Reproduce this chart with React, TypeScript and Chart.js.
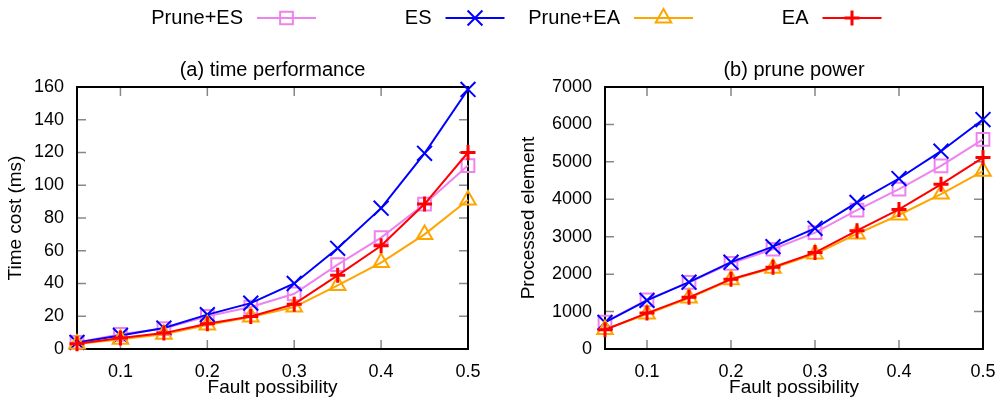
import React, { useEffect, useRef } from 'react';
import { Chart, registerables } from 'chart.js';

Chart.register(...registerables);

// ---------- data ----------
const faultPossibility = [0.05, 0.1, 0.15, 0.2, 0.25, 0.3, 0.35, 0.4, 0.45, 0.5];
const xTickValues = [0.1, 0.2, 0.3, 0.4, 0.5];
const xTickLabels = ['0.1', '0.2', '0.3', '0.4', '0.5'];
const timeTickValues = [0, 20, 40, 60, 80, 100, 120, 140, 160];
const timeTickLabels = ['0', '20', '40', '60', '80', '100', '120', '140', '160'];
const elemTickValues = [0, 1000, 2000, 3000, 4000, 5000, 6000, 7000];
const elemTickLabels = ['0', '1000', '2000', '3000', '4000', '5000', '6000', '7000'];

const seriesNames = ['Prune+ES', 'ES', 'Prune+EA', 'EA'];

const timePruneES = [4, 9, 12.5, 20, 25.6, 33.7, 51.5, 68, 88.5, 112];
const timeES = [4, 8.3, 12.8, 21, 28, 40, 61.5, 86, 119.5, 158.5];
const timePruneEA = [3, 6, 9, 14.6, 19.5, 25.6, 38.8, 52.8, 70, 91];
const timeEA = [3.2, 6.7, 9.7, 15.4, 19.9, 27.4, 45, 63, 88.5, 120];

const elemPruneES = [720, 1315, 1780, 2290, 2665, 3110, 3710, 4270, 4895, 5600];
const elemES = [710, 1300, 1785, 2320, 2735, 3225, 3915, 4555, 5285, 6130];
const elemPruneEA = [520, 935, 1360, 1850, 2160, 2535, 3075, 3580, 4140, 4750];
const elemEA = [515, 960, 1380, 1865, 2185, 2575, 3160, 3730, 4400, 5115];

// ---------- styles ----------
const FONT = '"Liberation Sans", Arial, Helvetica, sans-serif';
const seriesStyles = [
  { color: '#ee82ee', point: 'rect', radius: 9, pw: 2, order: 4 },
  { color: '#0000ff', point: 'crossRot', radius: 10.5, pw: 2, order: 3 },
  { color: '#ffa500', point: 'triangle', radius: 9, pw: 2, order: 2 },
  { color: '#ff0000', point: 'cross', radius: 7.5, pw: 3, order: 1 },
];

function drawMarker(ctx: CanvasRenderingContext2D, style: string, x: number, y: number, r: number) {
  ctx.beginPath();
  if (style === 'rect') {
    const s = r * Math.SQRT1_2;
    ctx.rect(x - s, y - s, 2 * s, 2 * s);
  } else if (style === 'crossRot') {
    const d = r * Math.SQRT1_2;
    ctx.moveTo(x - d, y - d);
    ctx.lineTo(x + d, y + d);
    ctx.moveTo(x - d, y + d);
    ctx.lineTo(x + d, y - d);
  } else if (style === 'triangle') {
    let a = 0;
    ctx.moveTo(x + Math.sin(a) * r, y - Math.cos(a) * r);
    a += (2 * Math.PI) / 3;
    ctx.lineTo(x + Math.sin(a) * r, y - Math.cos(a) * r);
    a += (2 * Math.PI) / 3;
    ctx.lineTo(x + Math.sin(a) * r, y - Math.cos(a) * r);
    ctx.closePath();
  } else {
    ctx.moveTo(x, y - r);
    ctx.lineTo(x, y + r);
    ctx.moveTo(x - r, y);
    ctx.lineTo(x + r, y);
  }
  ctx.stroke();
}

const framePlugin = {
  id: 'gnuframe',
  beforeDatasetsDraw(chart: any) {
    const { ctx, chartArea } = chart;
    const { left, right, top, bottom } = chartArea;
    const xs = chart.scales.x;
    const ys = chart.scales.y;
    const tl = 9;
    ctx.save();
    ctx.strokeStyle = '#888888';
    ctx.lineWidth = 1.5;
    ctx.beginPath();
    xs.ticks.forEach((t: any) => {
      const px = xs.getPixelForValue(t.value);
      ctx.moveTo(px, bottom);
      ctx.lineTo(px, bottom - tl);
      ctx.moveTo(px, top);
      ctx.lineTo(px, top + tl);
    });
    ys.ticks.forEach((t: any) => {
      const py = ys.getPixelForValue(t.value);
      ctx.moveTo(left, py);
      ctx.lineTo(left + tl, py);
      ctx.moveTo(right, py);
      ctx.lineTo(right - tl, py);
    });
    ctx.stroke();
    ctx.strokeStyle = '#000000';
    ctx.lineWidth = 2;
    ctx.strokeRect(left, top, right - left, bottom - top);
    ctx.restore();
  },
};

const legendPlugin = {
  id: 'gnulegend',
  afterDraw(chart: any) {
    const ctx: CanvasRenderingContext2D = chart.ctx;
    ctx.save();
    ctx.font = `20px ${FONT}`;
    ctx.fillStyle = '#000';
    ctx.textAlign = 'right';
    ctx.textBaseline = 'middle';
    const y = 18;
    seriesNames.forEach((name, i) => {
      const st = seriesStyles[i];
      const lineStart = 257 + i * 188.5;
      const lineEnd = lineStart + 59;
      ctx.fillText(name, lineStart - 14, y);
      ctx.strokeStyle = st.color;
      ctx.lineWidth = 2;
      ctx.beginPath();
      ctx.moveTo(lineStart, y);
      ctx.lineTo(lineEnd, y);
      ctx.stroke();
      ctx.lineWidth = st.pw;
      drawMarker(ctx, st.point, (lineStart + lineEnd) / 2, y, st.radius);
    });
    ctx.restore();
  },
};

function makeConfig(opts: {
  series: number[][];
  title: string;
  yTitle: string;
  yMax: number;
  yTickValues: number[];
  yTickLabels: string[];
  padLeft: number;
  padRight: number;
  yWidth: number;
  yTitlePad: number;
  withLegend: boolean;
}): any {
  const datasets = opts.series.map((vals, i) => {
    const st = seriesStyles[i];
    return {
      label: seriesNames[i],
      data: faultPossibility.map((x, j) => ({ x, y: vals[j] })),
      borderColor: st.color,
      backgroundColor: st.color,
      borderWidth: 2,
      pointStyle: st.point,
      pointRadius: st.radius,
      pointBorderWidth: st.pw,
      pointBorderColor: st.color,
      pointBackgroundColor: 'rgba(0,0,0,0)',
      fill: false,
      tension: 0,
      clip: false,
      order: st.order,
    };
  });
  return {
    type: 'line',
    data: { datasets },
    plugins: opts.withLegend ? [framePlugin, legendPlugin] : [framePlugin],
    options: {
      responsive: false,
      animation: false,
      layout: { padding: { left: opts.padLeft, right: opts.padRight, top: 0, bottom: 0 } },
      plugins: {
        legend: { display: false },
        tooltip: { enabled: false },
        title: {
          display: true,
          text: opts.title,
          color: '#000',
          font: { family: FONT, size: 20, weight: 'normal' },
          padding: { top: 58, bottom: 5 },
          fullSize: false,
        },
      },
      scales: {
        x: {
          type: 'linear',
          min: 0.05,
          max: 0.5,
          grid: { display: false, drawTicks: false },
          border: { display: false },
          ticks: {
            color: '#000',
            font: { family: FONT, size: 18 },
            padding: 12,
            maxRotation: 0,
            autoSkip: false,
            callback: (_v: any, idx: number) => xTickLabels[idx],
          },
          afterBuildTicks: (s: any) => {
            s.ticks = xTickValues.map((v) => ({ value: v }));
          },
          afterFit: (s: any) => {
            s.height = 57;
          },
          title: {
            display: true,
            text: 'Fault possibility',
            color: '#000',
            font: { family: FONT, size: 19 },
            padding: { top: 0, bottom: 7 },
          },
        },
        y: {
          type: 'linear',
          min: 0,
          max: opts.yMax,
          grid: { display: false, drawTicks: false },
          border: { display: false },
          ticks: {
            color: '#000',
            font: { family: FONT, size: 18 },
            padding: 13,
            autoSkip: false,
            callback: (_v: any, idx: number) => opts.yTickLabels[idx],
          },
          afterBuildTicks: (s: any) => {
            s.ticks = opts.yTickValues.map((v) => ({ value: v }));
          },
          afterFit: (s: any) => {
            s.width = opts.yWidth;
          },
          title: {
            display: true,
            text: opts.yTitle,
            color: '#000',
            font: { family: FONT, size: 19 },
            padding: { top: opts.yTitlePad, bottom: 0 },
          },
        },
      },
    },
  };
}

export default function App() {
  const leftRef = useRef<HTMLCanvasElement>(null);
  const rightRef = useRef<HTMLCanvasElement>(null);

  useEffect(() => {
    const c1 = new Chart(
      leftRef.current as HTMLCanvasElement,
      makeConfig({
        series: [timePruneES, timeES, timePruneEA, timeEA],
        title: '(a) time performance',
        yTitle: 'Time cost (ms)',
        yMax: 160,
        yTickValues: timeTickValues,
        yTickLabels: timeTickLabels,
        padLeft: 0,
        padRight: 540,
        yWidth: 77,
        yTitlePad: 4,
        withLegend: true,
      })
    );
    const c2 = new Chart(
      rightRef.current as HTMLCanvasElement,
      makeConfig({
        series: [elemPruneES, elemES, elemPruneEA, elemEA],
        title: '(b) prune power',
        yTitle: 'Processed element',
        yMax: 7000,
        yTickValues: elemTickValues,
        yTickLabels: elemTickLabels,
        padLeft: 510,
        padRight: 25,
        yWidth: 95,
        yTitlePad: 7,
        withLegend: false,
      })
    );
    return () => {
      c1.destroy();
      c2.destroy();
    };
  }, []);

  return (
    <div style={{ position: 'fixed', left: 0, top: 0, width: 1008, height: 406, background: '#fff' }}>
      <canvas ref={leftRef} width={1008} height={406} style={{ position: 'absolute', left: 0, top: 0 }} />
      <canvas ref={rightRef} width={1008} height={406} style={{ position: 'absolute', left: 0, top: 0 }} />
    </div>
  );
}
